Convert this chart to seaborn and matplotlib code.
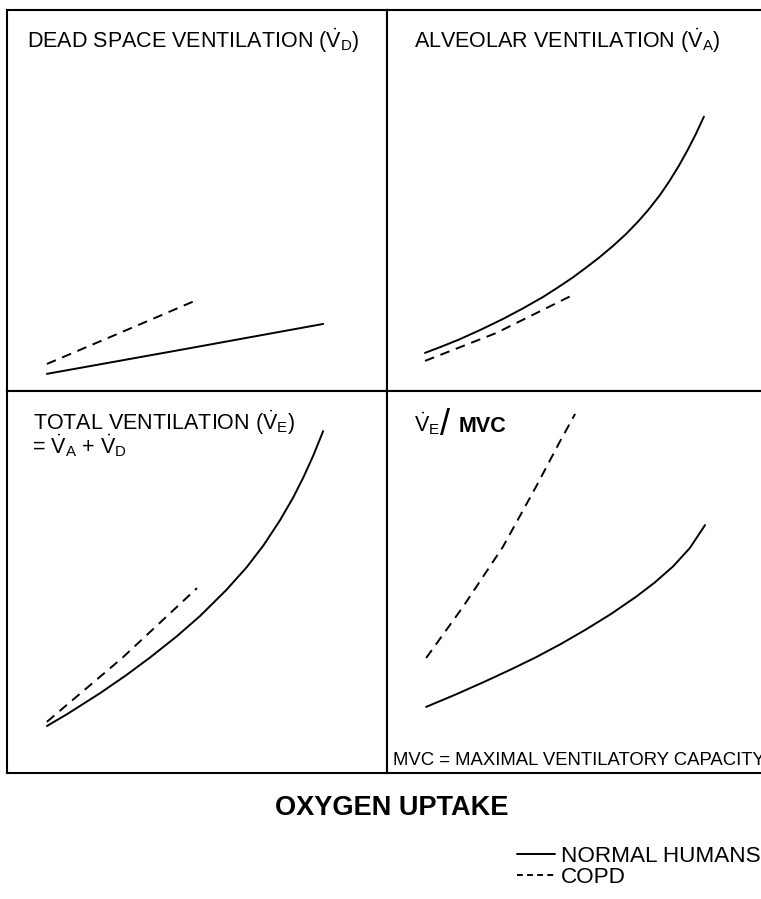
import numpy as np
import pandas as pd
import matplotlib.pyplot as plt
import seaborn as sns
from matplotlib.lines import Line2D

# --- DATA (arbitrary units, 0-10 across each panel) ---
# x = oxygen uptake, y = panel quantity
DEAD_X_NORMAL = [1.05, 4.68, 8.32]
DEAD_Y_NORMAL = [0.45, 1.10, 1.76]
DEAD_X_COPD = [1.05, 3.03, 5.0]
DEAD_Y_COPD = [0.71, 1.55, 2.39]

ALV_X_NORMAL = [1.0, 1.42, 1.87, 2.45, 3.05, 3.58, 4.11, 4.50, 4.89, 5.24, 5.58,
                5.95, 6.29, 6.61, 6.89, 7.18, 7.42, 7.68, 7.92, 8.13, 8.34]
ALV_Y_NORMAL = [1.0, 1.16, 1.34, 1.60, 1.89, 2.17, 2.47, 2.72, 2.98, 3.24, 3.50,
                3.81, 4.12, 4.45, 4.77, 5.14, 5.49, 5.91, 6.34, 6.75, 7.20]
ALV_X_COPD = [1.0, 2.87, 4.89]
ALV_Y_COPD = [0.79, 1.52, 2.52]

TOT_X_NORMAL = [1.05, 1.58, 2.45, 3.15, 3.76, 4.47, 5.08, 5.78, 6.31, 6.75, 7.18,
                7.53, 7.80, 8.06, 8.32]
TOT_Y_NORMAL = [1.23, 1.54, 2.09, 2.57, 3.02, 3.58, 4.11, 4.80, 5.39, 5.96, 6.61,
                7.21, 7.74, 8.31, 8.95]
TOT_X_COPD = [1.05, 3.03, 5.0]
TOT_Y_COPD = [1.34, 3.01, 4.84]

MVC_X_NORMAL = [1.03, 1.82, 2.61, 3.26, 3.92, 4.58, 5.24, 5.89, 6.55, 7.05, 7.53,
                7.97, 8.37]
MVC_Y_NORMAL = [1.73, 2.06, 2.41, 2.71, 3.03, 3.38, 3.76, 4.16, 4.61, 4.99, 5.41,
                5.89, 6.49]
MVC_X_COPD = [1.03, 2.0, 3.05, 3.92, 4.53, 4.95]
MVC_Y_COPD = [3.01, 4.35, 5.92, 7.49, 8.64, 9.40]

GROUPS = ["NORMAL HUMANS", "COPD"]


def make_df(xn, yn, xc, yc):
    return pd.concat([
        pd.DataFrame({"uptake": xn, "value": yn, "group": GROUPS[0]}),
        pd.DataFrame({"uptake": xc, "value": yc, "group": GROUPS[1]}),
    ], ignore_index=True)


panels = [
    make_df(DEAD_X_NORMAL, DEAD_Y_NORMAL, DEAD_X_COPD, DEAD_Y_COPD),
    make_df(ALV_X_NORMAL, ALV_Y_NORMAL, ALV_X_COPD, ALV_Y_COPD),
    make_df(TOT_X_NORMAL, TOT_Y_NORMAL, TOT_X_COPD, TOT_Y_COPD),
    make_df(MVC_X_NORMAL, MVC_Y_NORMAL, MVC_X_COPD, MVC_Y_COPD),
]

sns.set_theme(style="white")
plt.rcParams["font.family"] = ["Liberation Sans", "DejaVu Sans"]
plt.rcParams["text.color"] = "black"
plt.rcParams["mathtext.fontset"] = "custom"
plt.rcParams["mathtext.rm"] = "Liberation Sans"
plt.rcParams["mathtext.it"] = "Liberation Sans:italic"
plt.rcParams["mathtext.bf"] = "Liberation Sans:bold"

W, H = 761, 899
fig = plt.figure(figsize=(W / 100, H / 100), dpi=100)

# panel boxes in pixels: (left, top, right, bottom)
boxes = [(7, 10, 387, 391), (387, 10, 767, 391),
         (7, 391, 387, 773), (387, 391, 767, 773)]
axes = []
for (l, t, r, b) in boxes:
    ax = fig.add_axes([l / W, 1 - b / H, (r - l) / W, (b - t) / H])
    axes.append(ax)

dash_styles = {GROUPS[0]: "", GROUPS[1]: (5, 3.5)}
for ax, df in zip(axes, panels):
    sns.lineplot(data=df, x="uptake", y="value", style="group", dashes=dash_styles,
                 color="black", linewidth=1.4, estimator=None, sort=False,
                 legend=False, ax=ax)
    ax.set_xlim(0, 10)
    ax.set_ylim(0, 10)
    ax.set_xticks([])
    ax.set_yticks([])
    ax.set_xlabel("")
    ax.set_ylabel("")
    for s in ax.spines.values():
        s.set_color("black")
        s.set_linewidth(1.5)

TS = 15.5
axes[0].text(0.053, 0.900, r"DEAD SPACE VENTILATION ($\dot{\mathrm{V}}_\mathrm{D}$)",
             transform=axes[0].transAxes, fontsize=TS, va="baseline")
axes[1].text(0.071, 0.900, r"ALVEOLAR VENTILATION ($\dot{\mathrm{V}}_\mathrm{A}$)",
             transform=axes[1].transAxes, fontsize=TS, va="baseline")
axes[2].text(0.068, 0.898, r"TOTAL VENTILATION ($\dot{\mathrm{V}}_\mathrm{E}$)",
             transform=axes[2].transAxes, fontsize=TS, va="baseline")
axes[2].text(0.066, 0.836, r"= $\dot{\mathrm{V}}_\mathrm{A}$ + $\dot{\mathrm{V}}_\mathrm{D}$",
             transform=axes[2].transAxes, fontsize=TS, va="baseline")
axes[3].text(0.071, 0.893, r"$\dot{\mathrm{V}}_\mathrm{E}$",
             transform=axes[3].transAxes, fontsize=TS, va="baseline")
axes[3].text(0.140, 0.885, "/", transform=axes[3].transAxes, fontsize=26,
             va="baseline")
axes[3].text(0.189, 0.893, "MVC", transform=axes[3].transAxes, fontsize=TS,
             va="baseline", fontweight="bold")
axes[3].text(0.016, 0.021, "MVC = MAXIMAL VENTILATORY CAPACITY",
             transform=axes[3].transAxes, fontsize=13.3, va="baseline")

fig.text(391.5 / W, 1 - 815 / H, "OXYGEN UPTAKE", ha="center", va="baseline",
         fontsize=19.5, fontweight="bold")

handles = [Line2D([], [], color="black", lw=1.4),
           Line2D([], [], color="black", lw=1.4, ls=(0, (3, 2.2)))]
fig.legend(handles=handles, labels=GROUPS, loc="upper left",
           bbox_to_anchor=(517 / W, 1 - 846 / H), frameon=False, fontsize=16.2,
           handlelength=1.69, handletextpad=0.25, borderpad=0,
           borderaxespad=0, labelspacing=0.0, labelcolor="black")

fig.savefig("out.png", dpi=100)
